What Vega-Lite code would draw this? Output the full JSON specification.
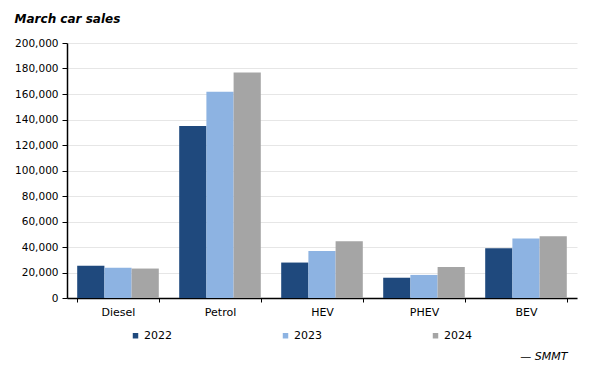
{
  "$schema": "https://vega.github.io/schema/vega-lite/v6.json",
  "autosize": {"type": "fit", "contains": "padding"},
  "width": 600,
  "height": 380,
  "padding": {"left": 14, "right": 23, "top": 13, "bottom": 19},
  "background": "white",
  "title": {
    "text": "March car sales",
    "anchor": "start",
    "frame": "bounds",
    "font": "DejaVu Sans",
    "fontSize": 12,
    "fontStyle": "italic",
    "fontWeight": "bold",
    "color": "#000000",
    "offset": 12
  },
  "data": {
    "values": [
      {"type": "Diesel", "year": "2022", "sales": 25300},
      {"type": "Diesel", "year": "2023", "sales": 23700},
      {"type": "Diesel", "year": "2024", "sales": 23100},
      {"type": "Petrol", "year": "2022", "sales": 135000},
      {"type": "Petrol", "year": "2023", "sales": 161800},
      {"type": "Petrol", "year": "2024", "sales": 176900},
      {"type": "HEV", "year": "2022", "sales": 27800},
      {"type": "HEV", "year": "2023", "sales": 36900},
      {"type": "HEV", "year": "2024", "sales": 44500},
      {"type": "PHEV", "year": "2022", "sales": 15900},
      {"type": "PHEV", "year": "2023", "sales": 18100},
      {"type": "PHEV", "year": "2024", "sales": 24300},
      {"type": "BEV", "year": "2022", "sales": 39000},
      {"type": "BEV", "year": "2023", "sales": 46600},
      {"type": "BEV", "year": "2024", "sales": 48400}
    ]
  },
  "mark": {"type": "bar"},
  "encoding": {
    "x": {
      "field": "type",
      "type": "nominal",
      "sort": ["Diesel", "Petrol", "HEV", "PHEV", "BEV"],
      "scale": {"paddingInner": 0.2, "paddingOuter": 0.1},
      "axis": {
        "title": "— SMMT",
        "titleFont": "DejaVu Sans",
        "titleFontSize": 11,
        "titleFontStyle": "italic",
        "titleFontWeight": "normal",
        "titleColor": "#000000",
        "titleAnchor": "end",
        "titleAlign": "right",
        "titleBaseline": "alphabetic",
        "titleX": 500,
        "titleY": 61,
        "labelAngle": 0,
        "labelFont": "DejaVu Sans",
        "labelFontSize": 11,
        "labelColor": "#000000",
        "labelPadding": 4,
        "tickBand": "extent",
        "tickColor": "#000000",
        "tickSize": 4,
        "domainColor": "#000000",
        "domainWidth": 1.5,
        "grid": false
      }
    },
    "xOffset": {"field": "year", "type": "nominal", "scale": {"paddingInner": 0, "paddingOuter": 0}},
    "y": {
      "field": "sales",
      "type": "quantitative",
      "scale": {"domain": [0, 200000]},
      "axis": {
        "title": null,
        "format": ",d",
        "values": [0, 20000, 40000, 60000, 80000, 100000, 120000, 140000, 160000, 180000, 200000],
        "labelFont": "DejaVu Sans",
        "labelFontSize": 10.5,
        "labelColor": "#000000",
        "labelPadding": 4,
        "tickColor": "#000000",
        "tickSize": 5,
        "domainColor": "#000000",
        "domainWidth": 1.5,
        "gridColor": "#e6e6e6",
        "gridWidth": 1
      }
    },
    "color": {
      "field": "year",
      "type": "nominal",
      "scale": {"domain": ["2022", "2023", "2024"], "range": ["#1f497d", "#8db3e2", "#a5a5a5"]},
      "legend": {
        "title": null,
        "orient": "none",
        "direction": "horizontal",
        "legendX": 63,
        "legendY": 287,
        "symbolType": "square",
        "symbolSize": 30,
        "symbolStrokeWidth": 0,
        "labelFont": "DejaVu Sans",
        "labelFontSize": 11,
        "labelColor": "#000000",
        "labelOffset": 3,
        "columnPadding": 108
      }
    }
  },
  "config": {
    "view": {"stroke": null}
  }
}
